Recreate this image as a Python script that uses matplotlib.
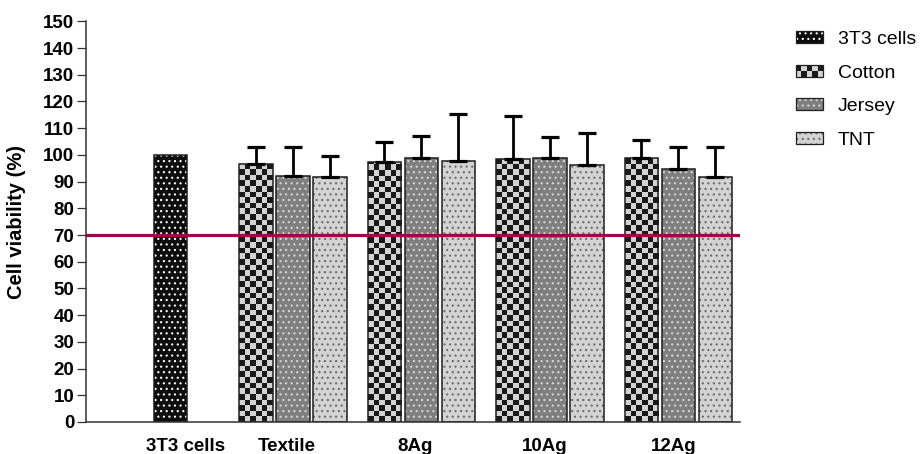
import numpy as np
import matplotlib
matplotlib.use("Agg")
from matplotlib import pyplot as plt
from matplotlib.patches import Patch, Rectangle

# values
groups = ['3T3 cells', 'Textile', '8Ag', '10Ag', '12Ag']
series = ['3T3 cells', 'Cotton', 'Jersey', 'TNT']
control_mean = [100.0]
cotton_mean = [96.6, 97.3, 98.5, 98.9]
cotton_sd = [6.4, 7.5, 16.1, 6.6]
jersey_mean = [92.1, 98.8, 98.9, 94.7]
jersey_sd = [10.9, 8.3, 7.7, 8.1]
tnt_mean = [91.7, 97.7, 96.2, 91.6]
tnt_sd = [7.9, 17.6, 11.9, 11.2]
threshold = 70

plt.rcParams['font.family'] = ['Liberation Sans', 'DejaVu Sans']
plt.rcParams['hatch.linewidth'] = 0.8

W, H = 922, 454
fig = plt.figure(figsize=(W / 100, H / 100), dpi=100)
ax = fig.add_axes([86 / W, 32 / H, 654 / W, 400.7 / H])
XMIN, XMAX = -0.611, 4.479
ax.set_xlim(XMIN, XMAX)
ax.set_ylim(0, 150)

px_x = 654 / (XMAX - XMIN)
px_y = 400.7 / 150
SQ = 5.6  # checker square in pixels

width = 0.261
step = 0.288
edge = '#1e1e1e'


def dotted_bars(x, h, face, dots):
    ax.bar(x, h, width, color=face, hatch='...', edgecolor=dots, linewidth=0, zorder=1)
    return ax.bar(x, h, width, fill=False, edgecolor=edge, linewidth=1.1, zorder=2)


def checker_bars(x, h):
    bars = ax.bar(x, h, width, color='#d4d4d4', linewidth=0, zorder=1)
    for b in bars:
        x0 = b.get_x()
        nc = int(np.ceil(b.get_width() * px_x / SQ))
        nr = int(np.ceil(b.get_height() * px_y / SQ))
        i, j = np.indices((nr, nc))
        tex = np.where(((i + j) % 2)[..., None] == 0, [0.1, 0.1, 0.1], [0.83, 0.83, 0.83])
        im = ax.imshow(tex, extent=[x0, x0 + nc * SQ / px_x, 0, nr * SQ / px_y],
                       origin='lower', interpolation='nearest', aspect='auto', zorder=1.5)
        im.set_clip_path(b)
    ax.bar(x, h, width, fill=False, edgecolor=edge, linewidth=1.1, zorder=2)


g = np.arange(1, len(groups))
dotted_bars([0.047], control_mean, '#0d0d0d', 'white')
checker_bars(g - step, cotton_mean)
dotted_bars(g, jersey_mean, '#7f7f7f', '#d8d8d8')
dotted_bars(g + step, tnt_mean, '#d3d3d3', '#6a6a6a')

for xs, m, sd in [(g - step, cotton_mean, cotton_sd), (g, jersey_mean, jersey_sd),
                  (g + step, tnt_mean, tnt_sd)]:
    ax.errorbar(xs, m, yerr=[np.zeros(len(sd)), sd], fmt='none', ecolor='black',
                elinewidth=2.0, capsize=6.2, capthick=2.3, zorder=2.5)

ax.axhline(threshold, color='#a3004b', linewidth=2.3, zorder=3)
ax.set_xlim(XMIN, XMAX)
ax.set_ylim(0, 150)

ax.spines['top'].set_visible(False)
ax.spines['right'].set_visible(False)
for s in ['left', 'bottom']:
    ax.spines[s].set_color('#333333')
    ax.spines[s].set_linewidth(1.1)

ax.set_yticks(np.arange(0, 151, 10))
ax.tick_params(axis='y', length=6.5, width=0.9, color='#333333', pad=2,
               labelsize=13.5)
for t in ax.get_yticklabels():
    t.set_fontweight('bold')
ax.set_xticks([0.16, 0.953, 1.949, 2.961, 3.965])
ax.set_xticklabels(groups, fontsize=13.5, fontweight='bold')
ax.tick_params(axis='x', length=0, pad=11.2)
ax.set_ylabel('Cell viability (%)', fontsize=14.5, fontweight='bold')
ax.yaxis.set_label_coords(-0.092, 0.5)


class CheckerHandler:
    def legend_artist(self, legend, orig_handle, fontsize, handlebox):
        x0, y0 = -handlebox.xdescent, -handlebox.ydescent
        w, h = handlebox.width, handlebox.height
        tr = handlebox.get_transform()
        handlebox.add_artist(Rectangle((x0, y0), w, h, facecolor='#d4d4d4',
                                       edgecolor='none', transform=tr))
        nc, nr = 5, 2
        for r in range(nr):
            for c in range(nc):
                if (r + c) % 2 == 0:
                    handlebox.add_artist(Rectangle((x0 + c * w / nc, y0 + (nr - 1 - r) * h / nr),
                                                   w / nc, h / nr, facecolor='#1a1a1a',
                                                   edgecolor='none', transform=tr))
        outline = Rectangle((x0, y0), w, h, fill=False, edgecolor=edge,
                            linewidth=0.9, transform=tr)
        handlebox.add_artist(outline)
        return outline


def dot_handle(face, dots):
    return (Patch(facecolor=face, hatch='...', edgecolor=dots, linewidth=0),
            Patch(fill=False, edgecolor=edge, linewidth=0.9))


cotton_handle = Patch(facecolor='#d4d4d4')
handles = [dot_handle('#0d0d0d', 'white'), cotton_handle,
           dot_handle('#7f7f7f', '#d8d8d8'), dot_handle('#d3d3d3', '#6a6a6a')]
fig.legend(handles, series, loc='upper left', bbox_to_anchor=(796 / W, 1 - 31 / H),
           frameon=False, fontsize=14, handlelength=1.39, handleheight=0.55,
           handletextpad=0.75, labelspacing=0.85, borderpad=0, borderaxespad=0,
           handler_map={cotton_handle: CheckerHandler()})

fig.savefig('out.png', dpi=100)
